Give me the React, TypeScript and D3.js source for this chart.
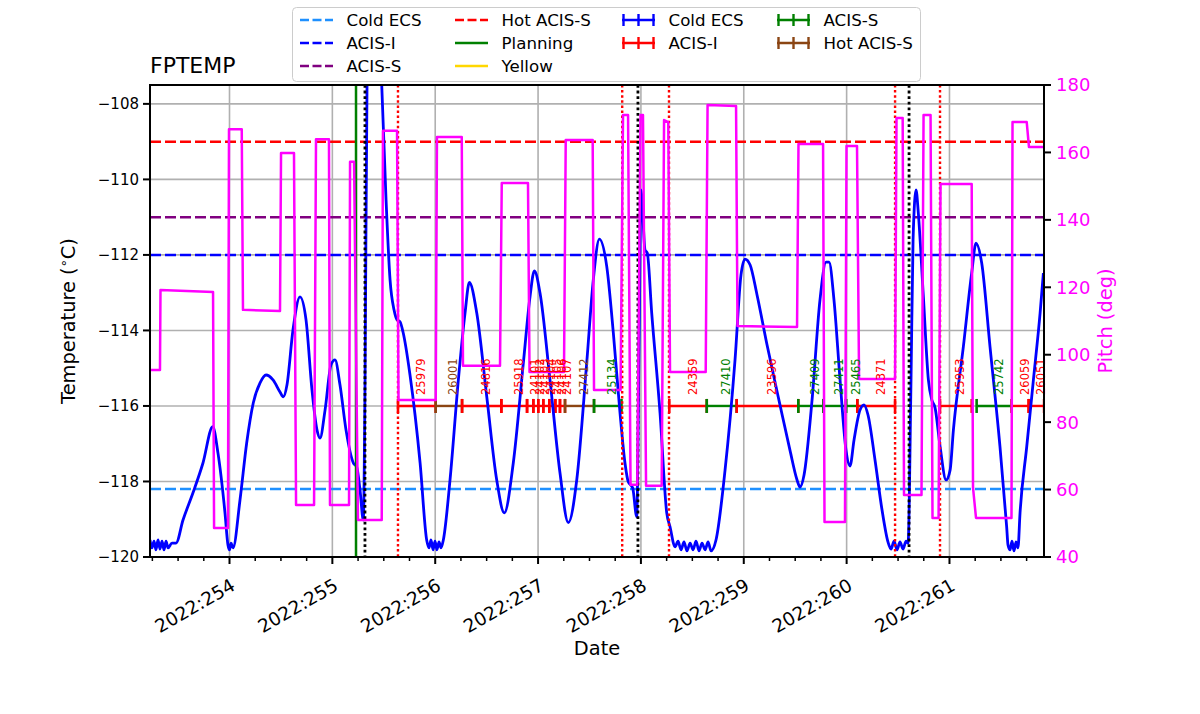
import React from 'react';
import * as d3 from 'd3';

const WIDTH = 1200;
const HEIGHT = 714;
const PLOT = { left: 150, right: 1044, top: 85, bottom: 557 };

const X_DOMAIN = [253.227, 261.919];
const TEMP_DOMAIN = [-120, -107.5];
const PITCH_DOMAIN = [40, 180];

// FPTEMP (deg C) vs day-of-year 2022
const tempTimes = [
  253.227, 253.246, 253.266, 253.285, 253.305, 253.324, 253.344, 253.363, 253.383, 253.402,
  253.441, 253.48, 253.548, 253.645, 253.742, 253.837, 253.888, 253.956, 253.985, 254.0,
  254.015, 254.034, 254.102, 254.167, 254.231, 254.297, 254.355, 254.423, 254.491, 254.523,
  254.559, 254.617, 254.685, 254.744, 254.802, 254.851, 254.88, 254.929, 254.987, 255.026,
  255.074, 255.133, 255.204, 255.237, 255.269, 255.301, 255.318, 255.337, 255.405, 255.48,
  255.522, 255.561, 255.6, 255.629, 255.658, 255.687, 255.755, 255.853, 255.917, 255.94,
  255.959, 255.979, 255.998, 256.017, 256.037, 256.056, 256.079, 256.144, 256.225, 256.29,
  256.332, 256.404, 256.501, 256.598, 256.672, 256.759, 256.857, 256.922, 256.964, 257.019,
  257.116, 257.213, 257.294, 257.376, 257.473, 257.537, 257.596, 257.668, 257.732, 257.797,
  257.845, 257.877, 257.92, 257.959, 257.982, 258.001, 258.04, 258.062, 258.105, 258.186,
  258.251, 258.283, 258.332, 258.361, 258.39, 258.419, 258.448, 258.478, 258.507, 258.536,
  258.565, 258.594, 258.624, 258.653, 258.682, 258.73, 258.818, 258.915, 258.973, 259.012,
  259.061, 259.129, 259.226, 259.352, 259.449, 259.518, 259.547, 259.586, 259.664, 259.741,
  259.8, 259.829, 259.877, 259.936, 259.994, 260.033, 260.072, 260.13, 260.169, 260.208,
  260.276, 260.344, 260.402, 260.432, 260.461, 260.49, 260.519, 260.548, 260.578, 260.597,
  260.626, 260.646, 260.675, 260.697, 260.746, 260.795, 260.828, 260.86, 260.909, 260.967,
  261.006, 261.038, 261.135, 261.216, 261.258, 261.313, 261.394, 261.491, 261.556, 261.569,
  261.589, 261.608, 261.627, 261.647, 261.666, 261.686, 261.751, 261.816, 261.881, 261.913,
];
const tempValues = [
  -119.55, -119.76, -119.58, -119.81, -119.55, -119.79, -119.58, -119.81, -119.58, -119.76,
  -119.63, -119.63, -119.02, -118.3, -117.51, -116.55, -117.25, -118.83, -119.68, -119.81,
  -119.63, -119.76, -118.49, -116.98, -115.92, -115.39, -115.18, -115.31, -115.63, -115.76,
  -115.44, -113.99, -113.11, -113.72, -115.58, -116.64, -116.85, -116.11, -114.91, -114.78,
  -115.44, -116.64, -117.51, -117.62, -118.23, -119.02, -115.31, -107.5, -104.19, -107.5,
  -110.54, -112.66, -113.46, -113.72, -113.77, -114.04, -115.18, -117.51, -119.55, -119.76,
  -119.55, -119.81, -119.58, -119.81, -119.6, -119.76, -119.55, -117.96, -115.31, -113.54,
  -112.73, -113.54, -115.75, -117.96, -118.83, -117.51, -114.86, -113.1, -112.42, -113.01,
  -115.31, -117.77, -119.09, -117.96, -114.86, -112.66, -111.58, -112.31, -114.07, -116.19,
  -117.51, -118.01, -118.17, -118.93, -114.43, -110.28, -111.87, -111.95, -113.54, -116.19,
  -118.83, -119.2, -119.73, -119.58, -119.81, -119.6, -119.84, -119.63, -119.81, -119.58,
  -119.84, -119.63, -119.81, -119.6, -119.84, -119.55, -117.7, -114.78, -112.53, -112.11,
  -112.26, -113.06, -114.38, -115.97, -117.17, -117.96, -118.15, -117.83, -115.84, -113.19,
  -112.19, -112.19, -113.19, -115.31, -117.17, -117.59, -116.9, -116.11, -115.97, -116.24,
  -117.43, -118.75, -119.6, -119.79, -119.58, -119.81, -119.6, -119.79, -119.58, -119.63,
  -115.31, -111.6, -110.28, -110.89, -113.1, -115.31, -115.84, -116.05, -117.08, -117.96,
  -117.7, -116.64, -114.43, -112.48, -111.69, -112.21, -114.43, -117.08, -119.2, -119.68,
  -119.81, -119.58, -119.84, -119.6, -119.76, -118.83, -117.08, -115.31, -113.54, -112.48,
];

// Pitch (deg) vs day-of-year 2022
const pitchTimes = [
  253.227, 253.324, 253.329, 253.84, 253.85, 253.985, 253.995, 254.119, 254.131, 254.491,
  254.501, 254.627, 254.647, 254.822, 254.841, 254.967, 254.977, 255.162, 255.172, 255.211,
  255.249, 255.48, 255.492, 255.629, 255.643, 256.005, 256.017, 256.258, 256.27, 256.63,
  256.647, 256.902, 256.917, 257.252, 257.269, 257.531, 257.544, 257.802, 257.826, 257.875,
  257.899, 257.965, 257.996, 258.02, 258.05, 258.202, 258.225, 258.266, 258.283, 258.63,
  258.648, 258.925, 258.939, 259.518, 259.532, 259.771, 259.785, 259.984, 259.999, 260.101,
  260.121, 260.471, 260.485, 260.545, 260.558, 260.728, 260.748, 260.816, 260.835, 260.894,
  260.913, 261.216, 261.229, 261.258, 261.603, 261.613, 261.751, 261.773, 261.919,
];
const pitchValues = [
  95.5, 95.5, 119.2, 118.6, 48.6, 48.6, 166.9, 166.9, 113.3, 113.0,
  159.8, 159.8, 55.4, 55.4, 163.9, 163.9, 55.4, 55.4, 157.2, 157.2,
  51.0, 51.0, 166.4, 166.4, 86.6, 86.6, 164.6, 164.6, 96.7, 96.7,
  150.9, 150.9, 94.9, 94.9, 163.7, 163.7, 89.5, 89.5, 171.1, 171.1,
  61.4, 61.4, 171.1, 171.1, 61.1, 61.1, 169.6, 169.0, 94.9, 94.9,
  174.1, 173.8, 108.5, 108.2, 162.5, 162.5, 50.4, 50.4, 161.9, 161.9,
  92.8, 92.8, 170.2, 170.2, 58.4, 58.4, 171.1, 171.1, 51.6, 51.6,
  150.6, 150.6, 60.5, 51.6, 51.6, 169.0, 169.0, 161.6, 161.6,
];

// Limit lines
const limitNames = ['Cold ECS', 'ACIS-I', 'ACIS-S', 'Hot ACIS-S'];
const limitValues = [-118.2, -112.0, -111.0, -109.0];
const limitColors = ['#1e90ff', '#0000ff', '#800080', '#ff0000'];

const planningDay = 255.23;
const perigeeDays = [255.317, 257.971, 260.607];
const radzoneDays = [255.638, 257.818, 258.273, 260.471, 260.908];

// Observations
const obsidIds = [
  '25979', '26001', '24816', '25918', '24101', '24102', '24103', '24104', '24105', '24106',
  '24107', '27412', '25134', '24359', '27410', '23596', '27409', '27411', '25465', '24371',
  '25953', '25742', '26059', '26051',
];
const obsidStarts = [
  255.638, 256.005, 256.261, 256.643, 256.893, 256.954, 257.002, 257.051, 257.109, 257.168,
  257.213, 257.262, 257.544, 258.276, 258.64, 258.931, 259.53, 259.773, 259.994, 260.104,
  260.908, 261.264, 261.605, 261.77,
];
const obsidStops = [
  256.005, 256.261, 256.643, 256.893, 256.954, 257.002, 257.051, 257.109, 257.168, 257.213,
  257.262, 257.544, 257.811, 258.64, 258.931, 259.53, 259.773, 259.994, 260.104, 260.471,
  261.216, 261.605, 261.77, 261.92,
];
const obsidModes = [
  'ACIS-I', 'Hot ACIS-S', 'ACIS-I', 'ACIS-I', 'ACIS-I', 'ACIS-I', 'ACIS-I', 'ACIS-I', 'ACIS-I', 'ACIS-I',
  'ACIS-I', 'Hot ACIS-S', 'ACIS-S', 'ACIS-I', 'ACIS-S', 'ACIS-I', 'ACIS-S', 'ACIS-S', 'ACIS-S', 'ACIS-I',
  'ACIS-I', 'ACIS-S', 'ACIS-I', 'ACIS-I',
];
const obsidLevel = -116.0;
const modeColors: Record<string, string> = {
  'Cold ECS': '#0000ff',
  'ACIS-I': '#ff0000',
  'ACIS-S': '#008000',
  'Hot ACIS-S': '#8b4513',
};

const xTickDays = [254, 255, 256, 257, 258, 259, 260, 261];
const xTickLabels = ['2022:254', '2022:255', '2022:256', '2022:257', '2022:258', '2022:259', '2022:260', '2022:261'];
const tempTicks = [-120, -118, -116, -114, -112, -110, -108];
const pitchTicks = [40, 60, 80, 100, 120, 140, 160, 180];

const FONT = '"DejaVu Sans", sans-serif';
const LEFT_TICK_FS = 15;
const RIGHT_TICK_FS = 18;
const DATE_TICK_FS = 18.5;
const LABEL_FS = 19.4;
const LEGEND_FS = 16.67;

export default function App() {
  const x = d3.scaleLinear().domain(X_DOMAIN).range([PLOT.left, PLOT.right]);
  const yT = d3.scaleLinear().domain(TEMP_DOMAIN).range([PLOT.bottom, PLOT.top]);
  const yP = d3.scaleLinear().domain(PITCH_DOMAIN).range([PLOT.bottom, PLOT.top]);

  const tempPath = d3
    .line<number>()
    .x((_, i) => x(tempTimes[i]))
    .y((v) => yT(v))
    .curve(d3.curveMonotoneX)(tempValues) as string;
  const pitchPath = d3
    .line<number>()
    .x((_, i) => x(pitchTimes[i]))
    .y((v) => yP(v))(pitchValues) as string;

  const minorTicks: number[] = [];
  for (let d = 253.25; d < X_DOMAIN[1]; d += 0.25) {
    if (Math.abs(d - Math.round(d)) > 1e-6 && d > X_DOMAIN[0]) minorTicks.push(d);
  }

  const yBar = yT(obsidLevel);

  // legend
  const legendCols = [300, 455, 622, 777];
  const legendRows = [20, 43, 66];
  const legendLines = [
    { col: 0, row: 0, label: limitNames[0], color: limitColors[0], kind: 'dash' },
    { col: 0, row: 1, label: limitNames[1], color: limitColors[1], kind: 'dash' },
    { col: 0, row: 2, label: limitNames[2], color: limitColors[2], kind: 'dash' },
    { col: 1, row: 0, label: limitNames[3], color: limitColors[3], kind: 'dash' },
    { col: 1, row: 1, label: 'Planning', color: '#008000', kind: 'solid' },
    { col: 1, row: 2, label: 'Yellow', color: '#ffd700', kind: 'solid' },
    { col: 2, row: 0, label: 'Cold ECS', color: modeColors['Cold ECS'], kind: 'err' },
    { col: 2, row: 1, label: 'ACIS-I', color: modeColors['ACIS-I'], kind: 'err' },
    { col: 3, row: 0, label: 'ACIS-S', color: modeColors['ACIS-S'], kind: 'err' },
    { col: 3, row: 1, label: 'Hot ACIS-S', color: modeColors['Hot ACIS-S'], kind: 'err' },
  ];

  return (
    <div style={{ position: 'absolute', left: 0, top: 0, width: WIDTH, height: HEIGHT, background: '#fff' }}>
      <svg width={WIDTH} height={HEIGHT} style={{ display: 'block', fontFamily: FONT }}>
        <defs>
          <clipPath id="plotClip">
            <rect x={PLOT.left} y={PLOT.top} width={PLOT.right - PLOT.left} height={PLOT.bottom - PLOT.top} />
          </clipPath>
        </defs>
        <rect x={0} y={0} width={WIDTH} height={HEIGHT} fill="#fff" />

        {/* grid */}
        <g stroke="#b0b0b0" strokeWidth={1.6}>
          {xTickDays.map((d) => (
            <line key={'gx' + d} x1={x(d)} x2={x(d)} y1={PLOT.top} y2={PLOT.bottom} />
          ))}
          {tempTicks.map((t) => (
            <line key={'gy' + t} x1={PLOT.left} x2={PLOT.right} y1={yT(t)} y2={yT(t)} />
          ))}
        </g>

        <g clipPath="url(#plotClip)">
          {/* limit lines */}
          {limitValues.map((v, i) => (
            <line
              key={'lim' + i}
              x1={PLOT.left}
              x2={PLOT.right}
              y1={yT(v)}
              y2={yT(v)}
              stroke={limitColors[i]}
              strokeWidth={2.5}
              strokeDasharray="11,4"
            />
          ))}

          {/* obsid bars */}
          {obsidIds.map((id, i) => {
            const c = modeColors[obsidModes[i]];
            const x0 = x(obsidStarts[i]);
            const x1 = x(obsidStops[i]);
            return (
              <g key={'ob' + i}>
                <line x1={x0} x2={x1} y1={yBar} y2={yBar} stroke={c} strokeWidth={2.4} />
                <line x1={x0} x2={x0} y1={yBar - 7} y2={yBar + 7} stroke={c} strokeWidth={2.6} />
                <line x1={x1} x2={x1} y1={yBar - 7} y2={yBar + 7} stroke={c} strokeWidth={2.6} />
              </g>
            );
          })}

          {/* temperature */}
          <path d={tempPath} fill="none" stroke="#0000ff" strokeWidth={2.8} strokeLinejoin="round" />

          {/* vertical lines */}
          <line x1={x(planningDay)} x2={x(planningDay)} y1={PLOT.top} y2={PLOT.bottom} stroke="#008000" strokeWidth={2.5} />
          {radzoneDays.map((d, i) => (
            <line key={'rz' + i} x1={x(d)} x2={x(d)} y1={PLOT.top} y2={PLOT.bottom} stroke="#ff0000" strokeWidth={2.4} strokeDasharray="2.5,2.6" />
          ))}
          {perigeeDays.map((d, i) => (
            <line key={'pg' + i} x1={x(d)} x2={x(d)} y1={PLOT.top} y2={PLOT.bottom} stroke="#000" strokeWidth={2.8} strokeDasharray="2.8,2.8" />
          ))}

          {/* pitch */}
          <path d={pitchPath} fill="none" stroke="#ff00ff" strokeWidth={2.5} strokeLinejoin="round" />
        </g>

        {/* obsid labels */}
        {obsidIds.map((id, i) => {
          const mid = x((obsidStarts[i] + obsidStops[i]) / 2);
          return (
            <text
              key={'obl' + i}
              transform={`translate(${mid + 8.5},${yBar - 11}) rotate(-90)`}
              fontSize={11.5}
              fill={modeColors[obsidModes[i]]}
              textAnchor="start"
            >
              {id}
            </text>
          );
        })}

        {/* spines */}
        <rect
          x={PLOT.left}
          y={PLOT.top}
          width={PLOT.right - PLOT.left}
          height={PLOT.bottom - PLOT.top}
          fill="none"
          stroke="#000"
          strokeWidth={2}
        />

        {/* ticks */}
        <g stroke="#000" strokeWidth={2}>
          {xTickDays.map((d) => (
            <line key={'xt' + d} x1={x(d)} x2={x(d)} y1={PLOT.bottom} y2={PLOT.bottom + 7} />
          ))}
          {minorTicks.map((d) => (
            <line key={'xm' + d} x1={x(d)} x2={x(d)} y1={PLOT.bottom} y2={PLOT.bottom + 4} strokeWidth={1.5} />
          ))}
          {tempTicks.map((t) => (
            <line key={'yt' + t} x1={PLOT.left - 7} x2={PLOT.left} y1={yT(t)} y2={yT(t)} />
          ))}
          {pitchTicks.map((t) => (
            <line key={'pt' + t} x1={PLOT.right} x2={PLOT.right + 7} y1={yP(t)} y2={yP(t)} />
          ))}
        </g>

        {xTickDays.map((d, i) => (
          <text
            key={'xl' + d}
            transform={`translate(${x(d)},${PLOT.bottom + 20}) rotate(-30)`}
            textAnchor="end"
            dy="0.76em"
            fontSize={DATE_TICK_FS}
            fill="#000"
          >
            {xTickLabels[i]}
          </text>
        ))}
        {tempTicks.map((t) => (
          <text key={'yl' + t} x={PLOT.left - 11} y={yT(t)} dy="0.36em" textAnchor="end" fontSize={LEFT_TICK_FS} fill="#000">
            {'\u2212' + Math.abs(t)}
          </text>
        ))}
        {pitchTicks.map((t) => (
          <text key={'pl' + t} x={PLOT.right + 12} y={yP(t)} dy="0.36em" textAnchor="start" fontSize={RIGHT_TICK_FS} fill="#ff00ff">
            {t}
          </text>
        ))}

        {/* axis labels */}
        <text x={(PLOT.left + PLOT.right) / 2} y={655} textAnchor="middle" fontSize={LABEL_FS} fill="#000">
          Date
        </text>
        <text transform={`translate(75,321) rotate(-90)`} textAnchor="middle" fontSize={LABEL_FS} fill="#000">
          Temperature (
          <tspan fontSize={13} dy={-7}>∘</tspan>
          <tspan dy={7}>C)</tspan>
        </text>
        <text transform={`translate(1112,321) rotate(-90)`} textAnchor="middle" fontSize={LABEL_FS} fill="#ff00ff">
          Pitch (deg)
        </text>
        <text x={PLOT.left} y={73} fontSize={22} fill="#000">
          FPTEMP
        </text>

        {/* legend */}
        <rect x={292.5} y={7.5} width={628} height={74} rx={4} ry={4} fill="#fff" fillOpacity={0.8} stroke="#cccccc" strokeWidth={1} />
        {legendLines.map((it, i) => {
          const hx = legendCols[it.col];
          const hy = legendRows[it.row];
          return (
            <g key={'lg' + i}>
              {it.kind === 'dash' && (
                <line x1={hx} x2={hx + 33} y1={hy} y2={hy} stroke={it.color} strokeWidth={2.5} strokeDasharray="9,3.5" />
              )}
              {it.kind === 'solid' && <line x1={hx} x2={hx + 33} y1={hy} y2={hy} stroke={it.color} strokeWidth={2.5} />}
              {it.kind === 'err' && (
                <g stroke={it.color}>
                  <line x1={hx} x2={hx + 33} y1={hy} y2={hy} strokeWidth={2.5} />
                  <line x1={hx + 1.5} x2={hx + 1.5} y1={hy - 6} y2={hy + 6} strokeWidth={2.4} />
                  <line x1={hx + 16.5} x2={hx + 16.5} y1={hy - 6} y2={hy + 6} strokeWidth={2.4} />
                  <line x1={hx + 31.5} x2={hx + 31.5} y1={hy - 6} y2={hy + 6} strokeWidth={2.4} />
                </g>
              )}
              <text x={hx + 46.5} y={hy} dy="0.36em" fontSize={LEGEND_FS} fill="#000">
                {it.label}
              </text>
            </g>
          );
        })}
      </svg>
    </div>
  );
}
